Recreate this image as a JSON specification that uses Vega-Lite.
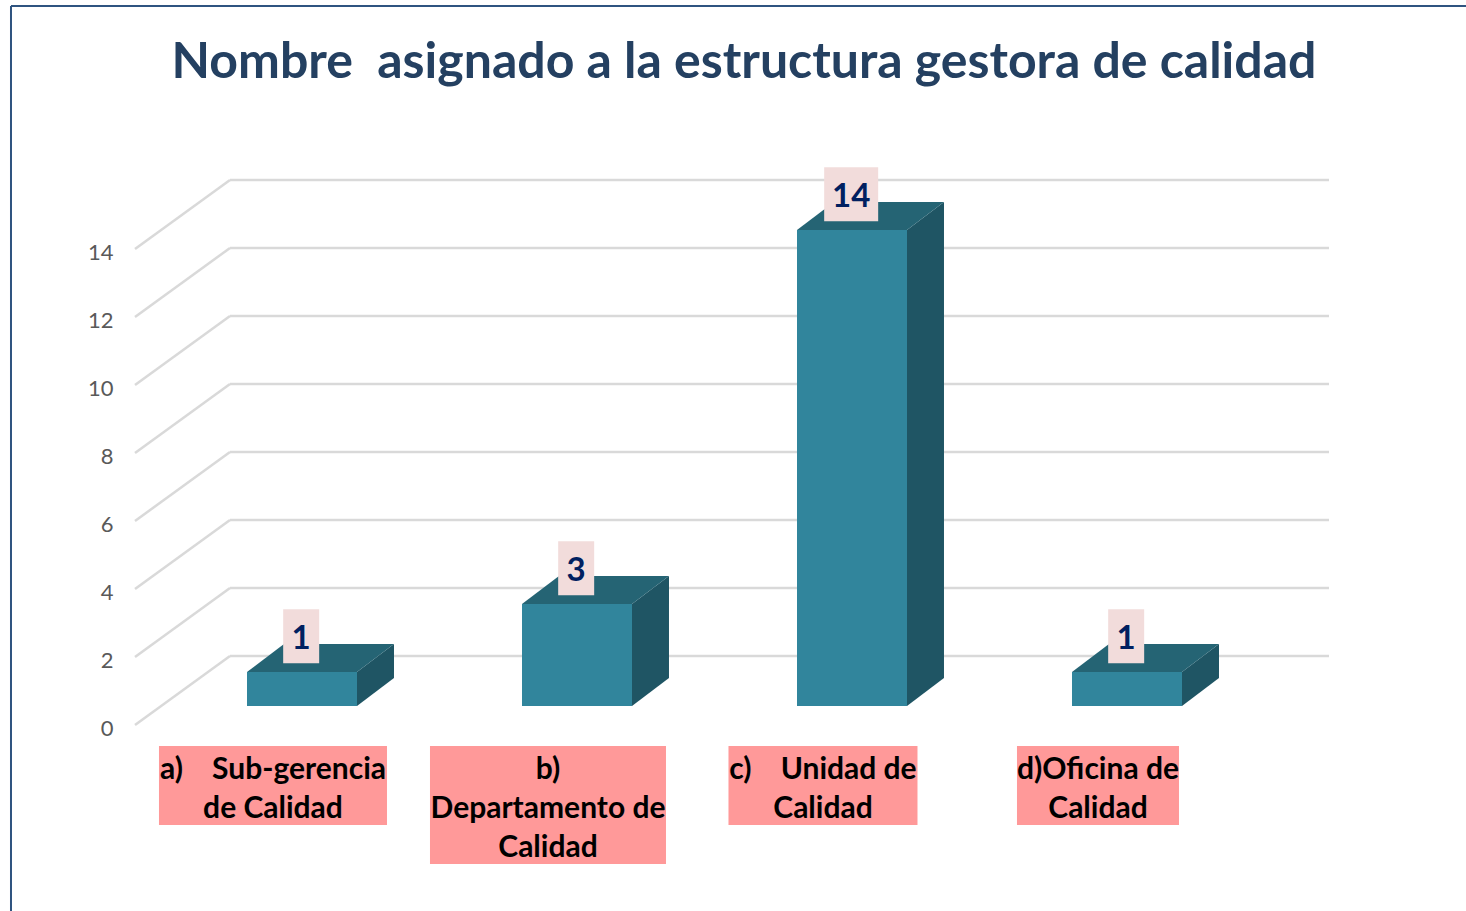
{
"$schema":"https://vega.github.io/schema/vega-lite/v6.json",
"width":1466,"height":911,"padding":0,"autosize":{"type":"none"},
"background":"white",
"config":{"view":{"stroke":null},"font":"Lato"},
"title":{"text":"Nombre\u00a0\u00a0asignado a la estructura gestora de calidad","anchor":"middle","frame":"group","orient":"top","offset":-88,"dx":11,"font":"Lato","fontSize":50,"fontWeight":"bold","color":"#244061"},
"datasets":{
"barras":[
{"categoria":"a)\u00a0\u00a0\u00a0 Sub-gerencia\nde Calidad","indice":0,"valor":1},
{"categoria":"b)\nDepartamento de\nCalidad","indice":1,"valor":3},
{"categoria":"c)\u00a0\u00a0\u00a0 Unidad de\nCalidad","indice":2,"valor":14},
{"categoria":"d)Oficina de\nCalidad","indice":3,"valor":1}
],
"rejilla":[{"v":0},{"v":2},{"v":4},{"v":6},{"v":8},{"v":10},{"v":12},{"v":14}],
"marco":[{"borde":"top"},{"borde":"left"}]
},
"encoding":{
"x":{"field":"x","type":"quantitative","scale":{"domain":[-1.09818,4.23273],"nice":false,"zero":false},"axis":null},
"y":{"field":"y","type":"quantitative","scale":{"domain":[-5.4706,21.3235],"nice":false,"zero":false},
 "axis":{"title":null,"orient":"left","offset":-113,"domain":false,"ticks":false,"grid":false,"values":[0,2,4,6,8,10,12,14],"labelPadding":0,"labelFont":"Lato","labelFontSize":22,"labelColor":"#595959","labelOffset":4}}
},
"layer":[
{"data":{"name":"marco"},
 "transform":[{"calculate":"-1.0582","as":"x"},{"calculate":"datum.borde=='top'?4.2327:-1.0582","as":"x2"},{"calculate":"21.147","as":"y"},{"calculate":"datum.borde=='top'?21.147:-5.4706","as":"y2"}],
 "mark":{"type":"rule","color":"#2f5480","strokeWidth":2},
 "encoding":{"x2":{"field":"x2"},"y2":{"field":"y2"}}},
{"data":{"name":"rejilla"},
 "transform":[{"calculate":"-0.6073","as":"x"},{"calculate":"-0.2618","as":"x2"},{"calculate":"datum.v","as":"y"},{"calculate":"datum.v+2.03","as":"y2"}],
 "mark":{"type":"rule","color":"#d9d9d9","strokeWidth":2.5},
 "encoding":{"x2":{"field":"x2"},"y2":{"field":"y2"}}},
{"data":{"name":"rejilla"},
 "transform":[{"calculate":"-0.2618","as":"x"},{"calculate":"3.7345","as":"x2"},{"calculate":"datum.v+2.03","as":"y"}],
 "mark":{"type":"rule","color":"#d9d9d9","strokeWidth":2.5},
 "encoding":{"x2":{"field":"x2"}}},
{"data":{"name":"barras"},
 "transform":[{"calculate":"[0,1]","as":"d"},{"flatten":["d"]},{"calculate":"datum.indice+0.2+datum.d*0.1345","as":"x"},{"calculate":"0.559+datum.d*0.824","as":"y"},{"calculate":"datum.valor+0.559+datum.d*0.824","as":"y2"}],
 "mark":{"type":"area","orient":"vertical","color":"#1f5564","opacity":1},
 "encoding":{"y":{"field":"y","type":"quantitative","stack":null},"y2":{"field":"y2"},"detail":{"field":"indice"}}},
{"data":{"name":"barras"},
 "transform":[{"calculate":"[0,1]","as":"d"},{"flatten":["d"]},{"calculate":"datum.indice-0.2+datum.d*0.1345","as":"x"},{"calculate":"datum.indice+0.2+datum.d*0.1345","as":"x2"},{"calculate":"datum.valor+0.559+datum.d*0.824","as":"y"}],
 "mark":{"type":"area","orient":"horizontal","color":"#256474","opacity":1},
 "encoding":{"x":{"field":"x","type":"quantitative","stack":null},"x2":{"field":"x2"},"detail":{"field":"indice"}}},
{"data":{"name":"barras"},
 "transform":[{"calculate":"datum.indice-0.2","as":"x"},{"calculate":"datum.indice+0.2","as":"x2"},{"calculate":"0.559","as":"y"},{"calculate":"datum.valor+0.559","as":"y2"}],
 "mark":{"type":"rect","color":"#31859c"},
 "encoding":{"x2":{"field":"x2"},"y2":{"field":"y2"}}},
{"data":{"name":"barras"},
 "transform":[{"calculate":"(length(''+datum.valor)>1?27:18)/275","as":"m"},{"calculate":"datum.indice-0.003-datum.m","as":"x"},{"calculate":"datum.indice-0.003+datum.m","as":"x2"},{"calculate":"datum.valor+0.559+1.05-0.794","as":"y"},{"calculate":"datum.valor+0.559+1.05+0.794","as":"y2"}],
 "mark":{"type":"rect","color":"#f2dcdb"},
 "encoding":{"x2":{"field":"x2"},"y2":{"field":"y2"}}},
{"data":{"name":"barras"},
 "transform":[{"calculate":"datum.indice-0.003","as":"x"},{"calculate":"datum.valor+0.559+1.05","as":"y"}],
 "mark":{"type":"text","font":"Lato","fontSize":33,"fontWeight":"bold","color":"#002060","align":"center","baseline":"middle","dy":3},
 "encoding":{"text":{"field":"valor","type":"quantitative"}}},
{"data":{"name":"barras"},
 "transform":[{"calculate":"[114,118,94.5,81][datum.indice]/275","as":"m"},{"calculate":"datum.indice-0.1055-datum.m","as":"x"},{"calculate":"datum.indice-0.1055+datum.m","as":"x2"},{"calculate":"-0.618","as":"y"},{"calculate":"-0.618-length(split(datum.categoria,'\\n'))*1.147-0.03","as":"y2"}],
 "mark":{"type":"rect","color":"#ff9999"},
 "encoding":{"x2":{"field":"x2"},"y2":{"field":"y2"}}},
{"data":{"name":"barras"},
 "transform":[{"calculate":"datum.indice-0.1055","as":"x"},{"calculate":"-1.265","as":"y"}],
 "mark":{"type":"text","font":"Lato","fontSize":30,"fontWeight":"bold","color":"#000000","align":"center","baseline":"middle","lineBreak":"\n","lineHeight":39,"dy":2},
 "encoding":{"text":{"field":"categoria","type":"nominal"}}}
]
}
